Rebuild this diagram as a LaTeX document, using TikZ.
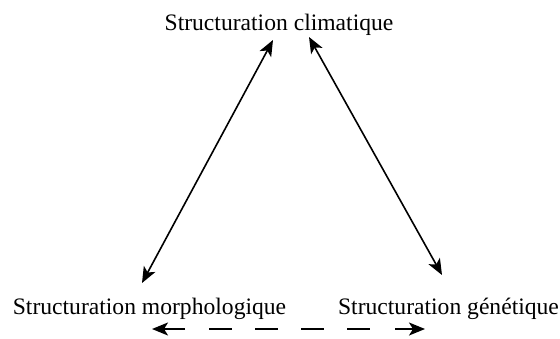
\documentclass[tikz,border=0pt]{standalone}
\usepackage{fontspec}
\setmainfont{Liberation Serif}
\usetikzlibrary{arrows.meta}
\begin{document}
\begin{tikzpicture}[x=1pt,y=-1pt,
  label/.style={font=\fontsize{23.6}{26}\selectfont, inner sep=0pt, anchor=base},
  tip/.style={Stealth[length=16pt,width=13pt,inset=4pt]},
  link/.style={line width=1.6pt, {Stealth[length=16pt,width=13pt,inset=4pt]}-{Stealth[length=16pt,width=13pt,inset=4pt]}},
  halflink/.style={line width=1.6pt, -{Stealth[length=16pt,width=13pt,inset=4pt]}},
  dashline/.style={line width=1.6pt, dash pattern=on 22.5pt off 23.5pt}]
  \useasboundingbox (0,0) rectangle (560,338);
  % the three kinds of structuring
  \node[label] (clim) at (279,30) {Structuration climatique};
  \node[label] (morph) at (149.5,314) {Structuration morphologique};
  \node[label] (gen) at (448.5,314) {Structuration génétique};
  % end points of the links
  \coordinate (c1) at (273,40);
  \coordinate (m1) at (142,283);
  \coordinate (c2) at (309,37);
  \coordinate (g1) at (442,275);
  \coordinate (m2) at (152,329);
  \coordinate (g2) at (425,329);
  \coordinate (m3) at (185,329);
  \coordinate (g3) at (395,329);
  \coordinate (d1) at (209,329);
  \coordinate (d2) at (372,329);
  \draw[link] (m1) -- (c1);
  \draw[link] (c2) -- (g1);
  % dashed two-way link at the bottom
  \draw[halflink] (m3) -- (m2);
  \draw[halflink] (g3) -- (g2);
  \draw[dashline] (d1) -- (d2);
\end{tikzpicture}
\end{document}
